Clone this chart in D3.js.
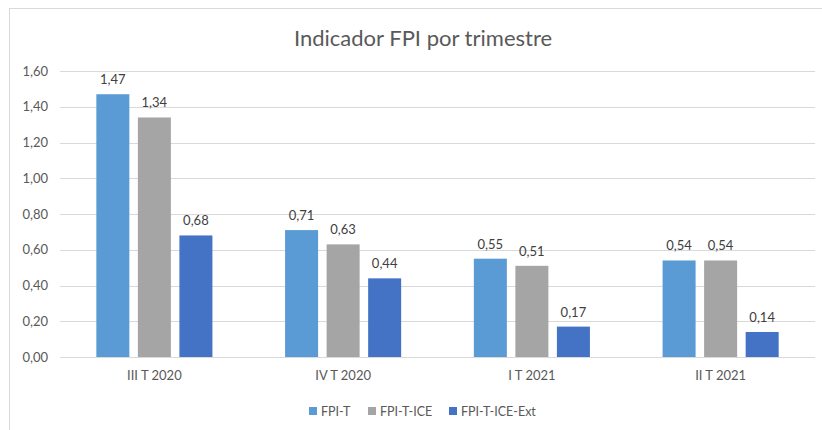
<!DOCTYPE html>
<html><head><meta charset="utf-8">
<script src="https://cdn.jsdelivr.net/npm/d3@7"></script>
<style>
html,body{margin:0;padding:0;background:#fff;}
svg text{font-family:Lato,"Open Sans",sans-serif;}
</style></head>
<body>
<svg id="c" width="822" height="430"></svg>
<script>
const categories = ["III T 2020","IV T 2020","I T 2021","II T 2021"];
const seriesNames = ["FPI-T","FPI-T-ICE","FPI-T-ICE-Ext"];
const fpiT = [1.47,0.71,0.55,0.54];
const fpiTICE = [1.34,0.63,0.51,0.54];
const fpiTICEExt = [0.68,0.44,0.17,0.14];
const yTicks = [0,0.2,0.4,0.6,0.8,1.0,1.2,1.4,1.6];
const title = "Indicador FPI por trimestre";

(function(){
const colors = ["#5B9BD5","#A5A5A5","#4472C4"];
const seriesValues = [fpiT,fpiTICE,fpiTICEExt];
const fmt = v => d3.format(".2f")(v).replace(".", ",");

const svg = d3.select("#c");
svg.append("rect").attr("x",9.5).attr("y",8.5).attr("width",830).attr("height",440)
  .attr("fill","#fff").attr("stroke","#D9D9D9").attr("stroke-width",1);

const pl=60,pr=815,pt=71,pb=357;
const y = d3.scaleLinear().domain([0,1.6]).range([pb,pt]);
const x0 = d3.scaleBand().domain(categories).range([pl,pr]).paddingInner(0.385).paddingOuter(0.1925);
const x1 = d3.scaleBand().domain(seriesNames).range([0,x0.bandwidth()]).paddingInner(0.205).paddingOuter(0);

svg.append("g").selectAll("line").data(yTicks).join("line")
  .attr("x1",pl).attr("x2",pr)
  .attr("y1",d=>Math.round(y(d))+0.5).attr("y2",d=>Math.round(y(d))+0.5)
  .attr("stroke","#D9D9D9").attr("stroke-width",1);

const yAxis = d3.axisLeft(y).tickValues(yTicks).tickFormat(fmt).tickSize(0).tickPadding(12);
const gy = svg.append("g").attr("transform",`translate(${pl},0)`).call(yAxis);
gy.select(".domain").remove();
gy.selectAll("text").attr("fill","#595959").attr("font-size","13px").attr("font-family","Lato");

const xAxis = d3.axisBottom(x0).tickSize(0).tickPadding(14);
const gx = svg.append("g").attr("transform",`translate(0,${pb})`).call(xAxis);
gx.select(".domain").remove();
gx.selectAll("text").attr("fill","#595959").attr("font-size","13px").attr("font-family","Lato");

const rows = (c,i)=>seriesNames.map((s,j)=>({s,j,v:seriesValues[j][i]}));
const groups = svg.append("g").selectAll("g").data(categories).join("g")
  .attr("transform",d=>`translate(${x0(d)},0)`);
groups.selectAll("rect").data(rows).join("rect")
  .attr("x",d=>x1(d.s)).attr("width",x1.bandwidth())
  .attr("y",d=>y(d.v)).attr("height",d=>y(0)-y(d.v))
  .attr("fill",d=>colors[d.j]);
groups.selectAll("text").data(rows).join("text")
  .attr("x",d=>x1(d.s)+x1.bandwidth()/2).attr("y",d=>y(d.v)-10)
  .attr("text-anchor","middle").attr("font-size","13px").attr("fill","#404040")
  .text(d=>fmt(d.v));

svg.append("text").attr("x",423).attr("y",46).attr("text-anchor","middle")
  .attr("font-size","22px").attr("fill","#595959").text(title);

const legX = [309,368,449];
const leg = svg.append("g").selectAll("g").data(seriesNames).join("g")
  .attr("transform",(d,i)=>`translate(${legX[i]},407)`);
leg.append("rect").attr("width",8).attr("height",8).attr("fill",(d,i)=>colors[i]);
leg.append("text").attr("x",12).attr("y",8.5).attr("font-size","12.5px").attr("fill","#595959").text(d=>d);
})();
</script>
</body></html>
